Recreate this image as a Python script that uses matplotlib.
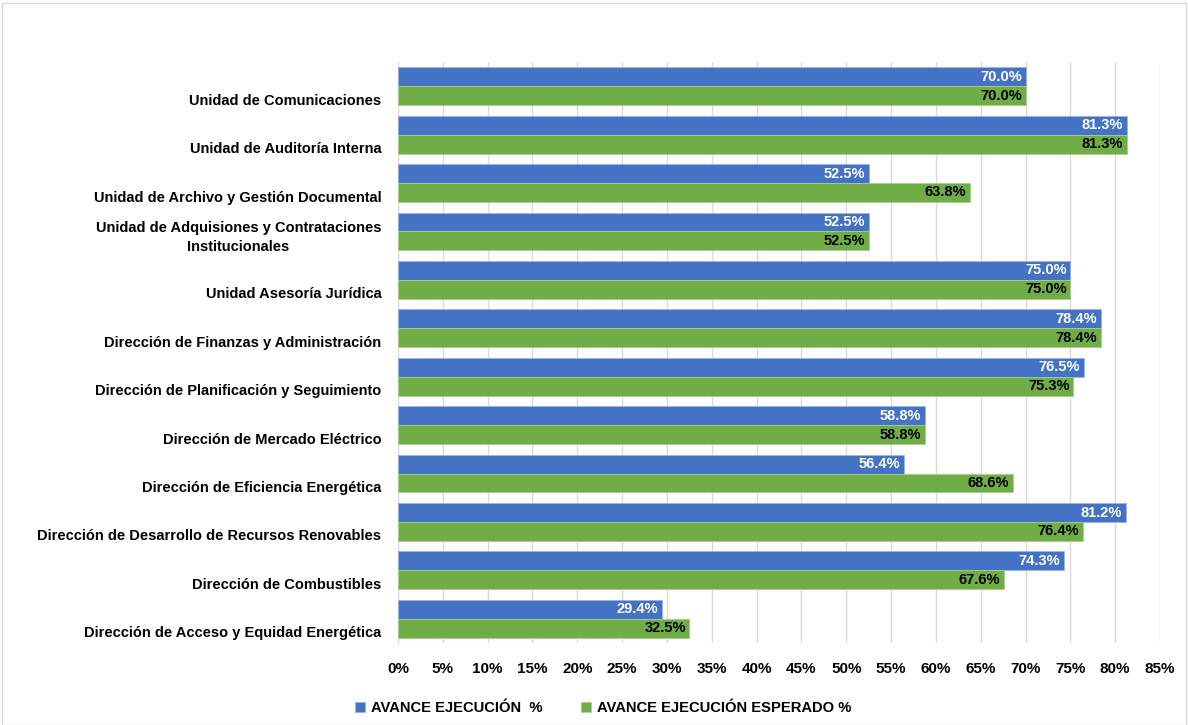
import numpy as np
import matplotlib.pyplot as plt
from matplotlib.transforms import offset_copy
from matplotlib.patches import Rectangle

# categorias de arriba hacia abajo
unidades = ["Unidad de Comunicaciones",
            "Unidad de Auditoría Interna",
            "Unidad de Archivo y Gestión Documental",
            "Unidad de Adquisiones y Contrataciones\nInstitucionales",
            "Unidad Asesoría Jurídica",
            "Dirección de Finanzas y Administración",
            "Dirección de Planificación y Seguimiento",
            "Dirección de Mercado Eléctrico",
            "Dirección de Eficiencia Energética",
            "Dirección de Desarrollo de Recursos Renovables",
            "Dirección de Combustibles",
            "Dirección de Acceso y Equidad Energética"]
avance = [70.0, 81.3, 52.5, 52.5, 75.0, 78.4, 76.5, 58.8, 56.4, 81.2, 74.3, 29.4]
esperado = [70.0, 81.3, 63.8, 52.5, 75.0, 78.4, 75.3, 58.8, 68.6, 76.4, 67.6, 32.5]
serie1 = "AVANCE EJECUCIÓN  %"
serie2 = "AVANCE EJECUCIÓN ESPERADO %"

azul = "#4472C4"
verde = "#70AD47"
plt.rcParams['font.family'] = ['Liberation Sans', 'DejaVu Sans']
plt.rcParams['font.weight'] = 'bold'

fig = plt.figure(figsize=(11.88, 7.25), dpi=100)
ax = fig.add_axes([398/1188, 1-643/725, (1160-398)/1188, (643-62)/725])

n = len(unidades)
y = np.arange(n)[::-1].astype(float)
h = 0.39
a = np.array(avance) / 100
e = np.array(esperado) / 100
b1 = ax.barh(y + h/2, a, height=h, color=azul, edgecolor="#9DB3E0", linewidth=0.6, zorder=3)
b2 = ax.barh(y - h/2, e, height=h, color=verde, edgecolor="#A9CF8F", linewidth=0.6, zorder=3)

for yy, v in zip(y + h/2, a):
    ax.text(v - 0.004, yy, f"{v*100:.1f}%", ha="right", va="center",
            color="white", fontsize=10.5, fontweight="bold", zorder=4)
for yy, v in zip(y - h/2, e):
    ax.text(v - 0.004, yy, f"{v*100:.1f}%", ha="right", va="center",
            color="black", fontsize=10.5, fontweight="bold", zorder=4)

ax.set_xlim(0, 0.85)
ax.set_ylim(-0.5, n - 0.5)
ticks = np.arange(0, 0.851, 0.05)
ax.set_xticks(ticks)
ax.set_xticklabels([f"{int(round(t*100))}%" for t in ticks], fontsize=11, fontweight="bold")
ax.set_yticks(y)
ax.set_yticklabels(unidades, fontsize=10.5, fontweight="bold", ha="center",
                   multialignment="center", linespacing=1.45)
ax.tick_params(axis="y", length=0, pad=12)
ax.tick_params(axis="x", length=0, pad=14)
fig.canvas.draw()
for lab in ax.get_yticklabels():
    bb = lab.get_window_extent()
    dx = -bb.width / 2
    dy = -2 if "\n" in lab.get_text() else -13
    lab.set_transform(offset_copy(lab.get_transform(), fig=fig, x=dx, y=dy, units="dots"))
    lab.set_ha("center")

ax.grid(axis="x", color="#D9D9D9", linewidth=1, zorder=0)
for s in ["top", "right", "bottom"]:
    ax.spines[s].set_visible(False)
ax.spines["left"].set_color("#D9D9D9")

fig.legend([b1, b2], [serie1, serie2], loc="center", bbox_to_anchor=(603/1188, 1-708/725),
           ncol=2, frameon=False, fontsize=10.6, handlelength=0.7, handleheight=0.7,
           columnspacing=2.6, handletextpad=0.4)

fig.add_artist(Rectangle((2/1188, 0), 1-4/1188, 1-3/725, transform=fig.transFigure,
                         fill=False, edgecolor="#D9D9D9", linewidth=1))
fig.savefig("out.png", dpi=100)
